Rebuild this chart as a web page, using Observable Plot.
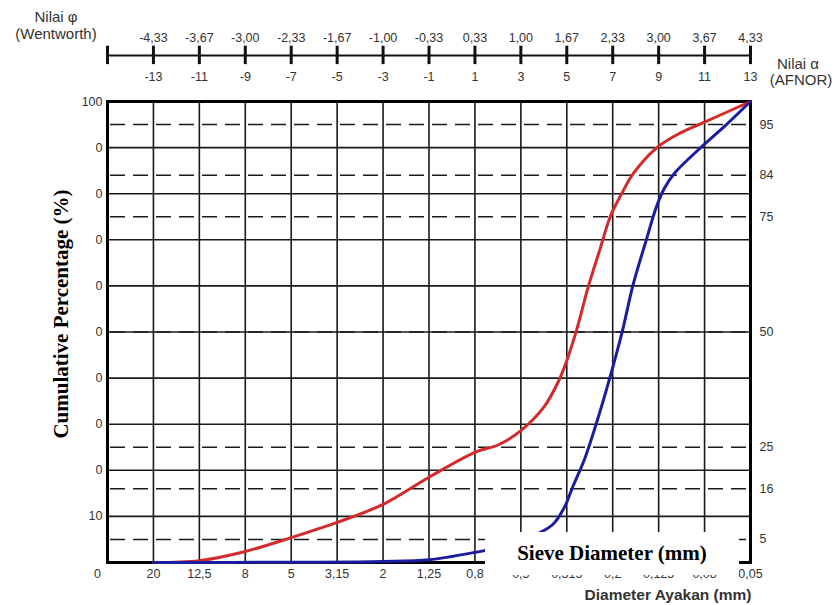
<!DOCTYPE html>
<html>
<head>
<meta charset="utf-8">
<script src="https://cdn.jsdelivr.net/npm/d3@7"></script>
<script src="https://cdn.jsdelivr.net/npm/@observablehq/plot@0.6"></script>
<style>
  body { margin: 0; background: #fff; }
  #wrap { position: relative; width: 836px; height: 605px; overflow: hidden; background: #fff; }
  #wrap svg { position: absolute; left: 0; top: 0; }
  .lbl { position: absolute; font-family: "Liberation Sans", Arial, sans-serif; color: #333; white-space: nowrap; text-align: center; line-height: 1; }
  .box { position: absolute; background: #fff; }
  .serif { font-family: "Liberation Serif", "Times New Roman", serif; font-weight: bold; color: #000; font-size: 21px; white-space: nowrap; position: absolute; line-height: 1; }
</style>
</head>
<body>
<div id="wrap"></div>
<script>
// ---- data ----
// alpha (AFNOR) tick values, phi (Wentworth) labels, sieve diameter labels
const alphaTicks = [-13, -11, -9, -7, -5, -3, -1, 1, 3, 5, 7, 9, 11, 13];
const phiLabels = ["-4,33", "-3,67", "-3,00", "-2,33", "-1,67", "-1,00", "-0,33", "0,33", "1,00", "1,67", "2,33", "3,00", "3,67", "4,33"];
const sieveLabels = ["20", "12,5", "8", "5", "3,15", "2", "1,25", "0,8", "0,5", "0,315", "0,2", "0,125", "0,08", "0,05"];
const leftTicks = [10, 20, 30, 40, 50, 60, 70, 80, 90, 100];
const solidPct = [10, 20, 30, 40, 50, 60, 70, 80, 90];
const dashedPct = [5, 16, 25, 50, 75, 84, 95];

// red curve (cumulative %, x in alpha units)
const redX = [-13, -11, -9, -7, -5, -3, -1, 1, 2.05, 3, 4, 4.62, 5, 5.42, 5.93, 6.43, 6.9, 7.38, 7.87, 8.9, 9.8, 10.9, 13];
const redY = [0, 0.4, 2.4, 5.4, 8.7, 12.6, 18.5, 23.9, 25.6, 28.6, 33.7, 39.1, 43.8, 50.3, 59.7, 67.7, 75.1, 79.9, 84.2, 89.9, 92.8, 95.3, 100];
// blue curve
const blueX = [-13, -7, -3, -1, 1, 2.8, 3.65, 4.4, 4.9, 5.25, 5.78, 6.29, 6.87, 7.42, 7.88, 8.47, 8.9, 9.25, 9.7, 10.9, 11.95, 13];
const blueY = [0, 0.05, 0.2, 0.6, 2.2, 4.1, 6.0, 8.3, 12, 16.3, 22.5, 30.2, 40.0, 50.2, 60.1, 70.1, 77.1, 81.2, 84.5, 90.3, 95, 100];

// ---- layout constants (data-space positions of the top scale) ----
const xMin = -15, xMax = 13;
const topLineY = 110, topTickLo = 108, topTickHi = 112, phiY = 113.8, alphaY = 105.4;

const red = redX.map((x, i) => ({x, y: redY[i]}));
const blue = blueX.map((x, i) => ({x, y: blueY[i]}));
const sieve = sieveLabels.map((t, i) => ({x: alphaTicks[i], t}));
const phi = phiLabels.map((t, i) => ({x: alphaTicks[i], t}));

const txt = {fontFamily: "Liberation Sans, Arial, sans-serif", fill: "#333", fontSize: 12.5};

const chart = Plot.plot({
  width: 836,
  height: 605,
  marginLeft: 107,
  marginRight: 86,
  marginTop: 101,
  marginBottom: 43,
  x: {domain: [xMin, xMax], axis: null},
  y: {domain: [0, 100], axis: null},
  style: {background: "transparent", overflow: "visible"},
  marks: [
    // grid
    Plot.ruleX(alphaTicks.slice(0, -1), {stroke: "#1a1a1a", strokeWidth: 1.6}),
    Plot.ruleY(solidPct, {stroke: "#1a1a1a", strokeWidth: 1.6}),
    Plot.ruleY(dashedPct, {stroke: "#1a1a1a", strokeWidth: 1.6, strokeDasharray: "15,8", strokeDashoffset: 20}),
    Plot.frame({stroke: "#000", strokeWidth: 3}),
    // curves
    Plot.line(red, {x: "x", y: "y", stroke: "#d42a2a", strokeWidth: 3, curve: "catmull-rom"}),
    Plot.line(blue, {x: "x", y: "y", stroke: "#1c1ca0", strokeWidth: 3, curve: "catmull-rom"}),
    // left labels
    Plot.text(leftTicks, {x: xMin, y: d => d, text: d => String(d), textAnchor: "end", dx: -5, ...txt}),
    // right labels
    Plot.text(dashedPct, {x: xMax, y: d => d, text: d => String(d), textAnchor: "start", dx: 9, ...txt}),
    // bottom labels
    Plot.text(sieve, {x: "x", y: 0, text: "t", dy: 11, ...txt}),
    Plot.text(["0"], {x: xMin, y: 0, text: d => d, dx: -10, dy: 11, ...txt}),
    // top double scale
    Plot.ruleY([topLineY], {x1: xMin, x2: xMax, stroke: "#111", strokeWidth: 2}),
    Plot.ruleX([xMin, ...alphaTicks], {x: d => d, y1: topTickLo, y2: topTickHi, stroke: "#111", strokeWidth: 3}),
    Plot.text(phi, {x: "x", y: phiY, text: "t", ...txt}),
    Plot.text(alphaTicks, {x: d => d, y: alphaY, text: d => String(d), ...txt})
  ]
});

const wrap = document.getElementById("wrap");
wrap.appendChild(chart);

function addLabel(text, cx, cy, size, bold) {
  const d = document.createElement("div");
  d.className = "lbl";
  d.textContent = text;
  d.style.fontSize = size + "px";
  if (bold) d.style.fontWeight = "bold";
  d.style.left = cx + "px";
  d.style.top = cy + "px";
  d.style.transform = "translate(-50%,-50%)";
  wrap.appendChild(d);
}
addLabel("Nilai \u03c6", 56, 16, 15);
addLabel("(Wentworth)", 56, 33, 15);
addLabel("Nilai \u03b1", 798, 63, 15);
addLabel("(AFNOR)", 801, 79, 15);
addLabel("Diameter Ayakan (mm)", 668, 595, 15.5, true);

// white overlay boxes with serif titles
const leftBox = document.createElement("div");
leftBox.className = "box";
Object.assign(leftBox.style, {left: "30px", top: "116px", width: "65.5px", height: "378px"});
wrap.appendChild(leftBox);
const ly = document.createElement("div");
ly.className = "serif";
ly.textContent = "Cumulative Percentage (%)";
Object.assign(ly.style, {left: "61px", top: "314px", transform: "translate(-50%,-50%) rotate(-90deg)"});
wrap.appendChild(ly);

const botBox = document.createElement("div");
botBox.className = "box";
Object.assign(botBox.style, {left: "485px", top: "532px", width: "254px", height: "43px"});
wrap.appendChild(botBox);
const bx = document.createElement("div");
bx.className = "serif";
bx.textContent = "Sieve Diameter (mm)";
Object.assign(bx.style, {left: "612px", top: "553px", transform: "translate(-50%,-50%)"});
wrap.appendChild(bx);
</script>
</body>
</html>
